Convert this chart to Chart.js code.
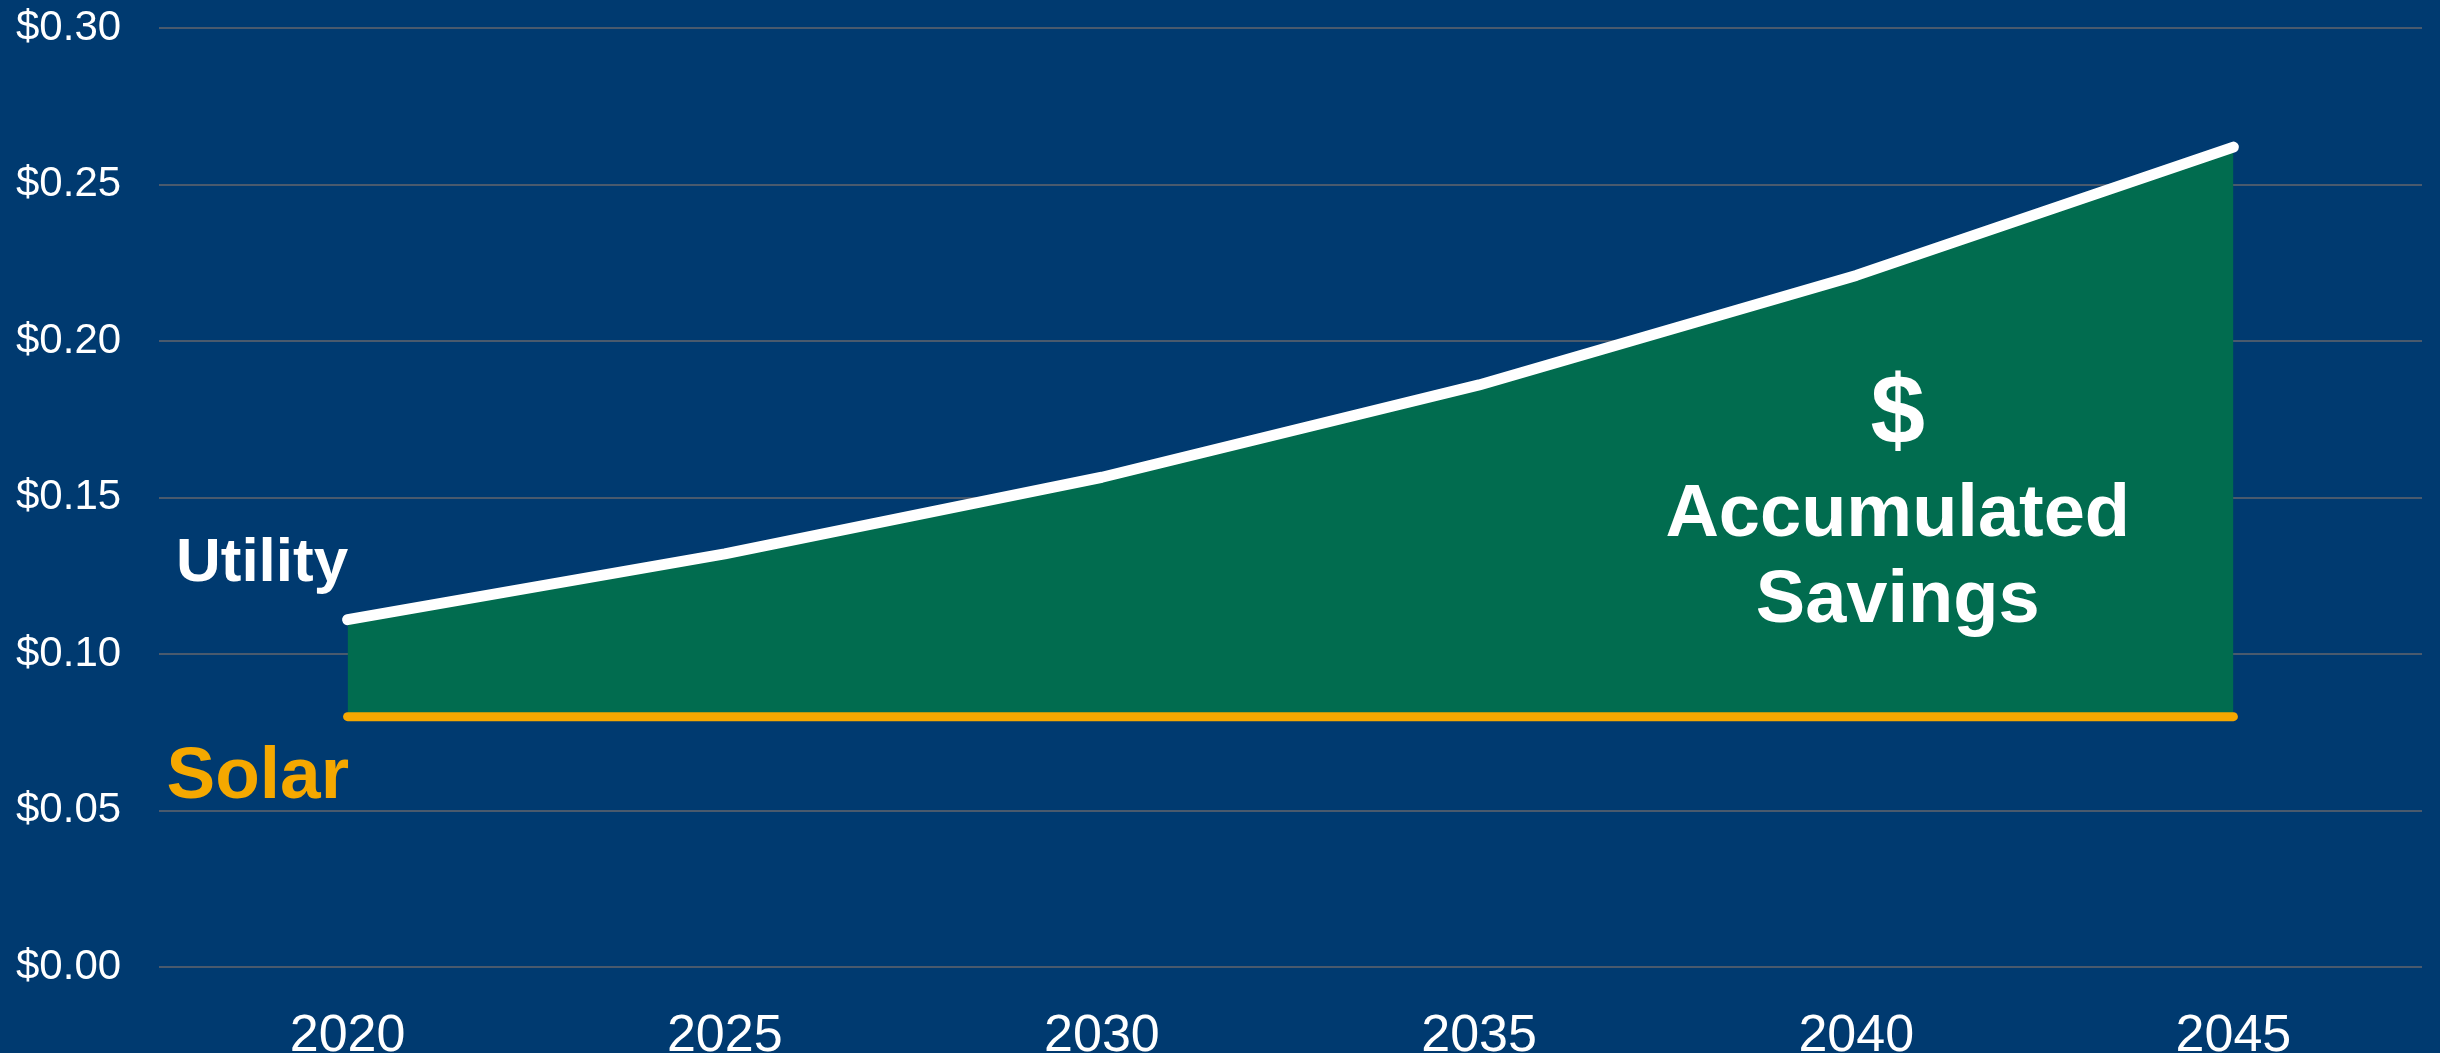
<!DOCTYPE html>
<html>
<head>
<meta charset="utf-8">
<title>Utility vs Solar</title>
<script src="https://cdn.jsdelivr.net/npm/chart.js@4/dist/chart.umd.min.js"></script>
<style>
  html, body { margin: 0; padding: 0; background: #003A70; }
  #wrap { width: 2440px; height: 1053px; }
</style>
</head>
<body>
<div id="wrap"><canvas id="canvas1" width="2440" height="1053"></canvas></div>
<script>
// Data
let years = ["2020", "2025", "2030", "2035", "2040", "2045"];
let utilityRate = [0.111, 0.132, 0.1565, 0.186, 0.221, 0.262];
let solarRate = [0.08, 0.08, 0.08, 0.08, 0.08, 0.08];
let yTicks = [0, 0.05, 0.10, 0.15, 0.20, 0.25, 0.30];

let savingsGreen = "#016C4F";
let solarGold = "#F5A800";

Chart.defaults.font.family = "'Liberation Sans', Arial, sans-serif";
Chart.defaults.color = "#FFFFFF";

// text drawn on the plot: x is a category index (can be fractional), y is a rate
let notes = [
    { text: "Utility", x: -0.455, y: 0.1234, size: 62, color: "#FFFFFF", align: "left" },
    { text: "Solar", x: -0.48, y: 0.054, size: 73, color: solarGold, align: "left" },
    { text: "$", x: 4.11, y: 0.1672, size: 98, color: "#FFFFFF", align: "center" },
    { text: "Accumulated", x: 4.11, y: 0.1376, size: 74, color: "#FFFFFF", align: "center" },
    { text: "Savings", x: 4.11, y: 0.1102, size: 74, color: "#FFFFFF", align: "center" }
];

let notesPlugin = {
    id: "notes",
    afterDraw(chart) {
        let ctx = chart.ctx;
        let xs = chart.scales.x;
        let ys = chart.scales.y;
        ctx.save();
        ctx.textBaseline = "alphabetic";
        notes.forEach(n => {
            ctx.font = "bold " + n.size + "px 'Liberation Sans', Arial, sans-serif";
            ctx.fillStyle = n.color;
            ctx.textAlign = n.align;
            ctx.fillText(n.text, xs.getPixelForValue(n.x), ys.getPixelForValue(n.y));
        });
        ctx.restore();
    }
};

let myChart1 = document.querySelector("#canvas1").getContext("2d");

let lineChart = new Chart(myChart1, {
    type: "line",
    data: {
        labels: years,
        datasets: [{
            label: "Utility",
            data: utilityRate,
            borderColor: "#FFFFFF",
            borderWidth: 11,
            borderCapStyle: "round",
            borderJoinStyle: "round",
            pointRadius: 0,
            tension: 0,
            fill: { target: 1 },
            backgroundColor: savingsGreen
        }, {
            label: "Solar",
            data: solarRate,
            borderColor: solarGold,
            borderWidth: 9,
            borderCapStyle: "round",
            pointRadius: 0,
            tension: 0,
            fill: false
        }]
    },
    options: {
        responsive: false,
        animation: false,
        layout: { padding: { left: 16, right: 18, top: 28, bottom: 0 } },
        plugins: {
            legend: { display: false },
            tooltip: { enabled: false },
            filler: { drawTime: "beforeDatasetsDraw" }
        },
        scales: {
            x: {
                offset: true,
                grid: { display: false },
                border: { display: false },
                ticks: {
                    color: "#FFFFFF",
                    font: { size: 52 },
                    padding: 30,
                    maxRotation: 0
                },
                afterFit(scale) { scale.height = 86; }
            },
            y: {
                min: 0,
                max: 0.30,
                afterBuildTicks(scale) { scale.ticks = yTicks.map(v => ({ value: v })); },
                grid: { color: "#4A5A6D", lineWidth: 2, drawTicks: false },
                border: { display: false },
                ticks: {
                    color: "#FFFFFF",
                    font: { size: 42 },
                    crossAlign: "far",
                    callback: v => "$" + Number(v).toFixed(2)
                },
                afterFit(scale) { scale.width = 143; }
            }
        }
    },
    plugins: [notesPlugin]
});
</script>
</body>
</html>
